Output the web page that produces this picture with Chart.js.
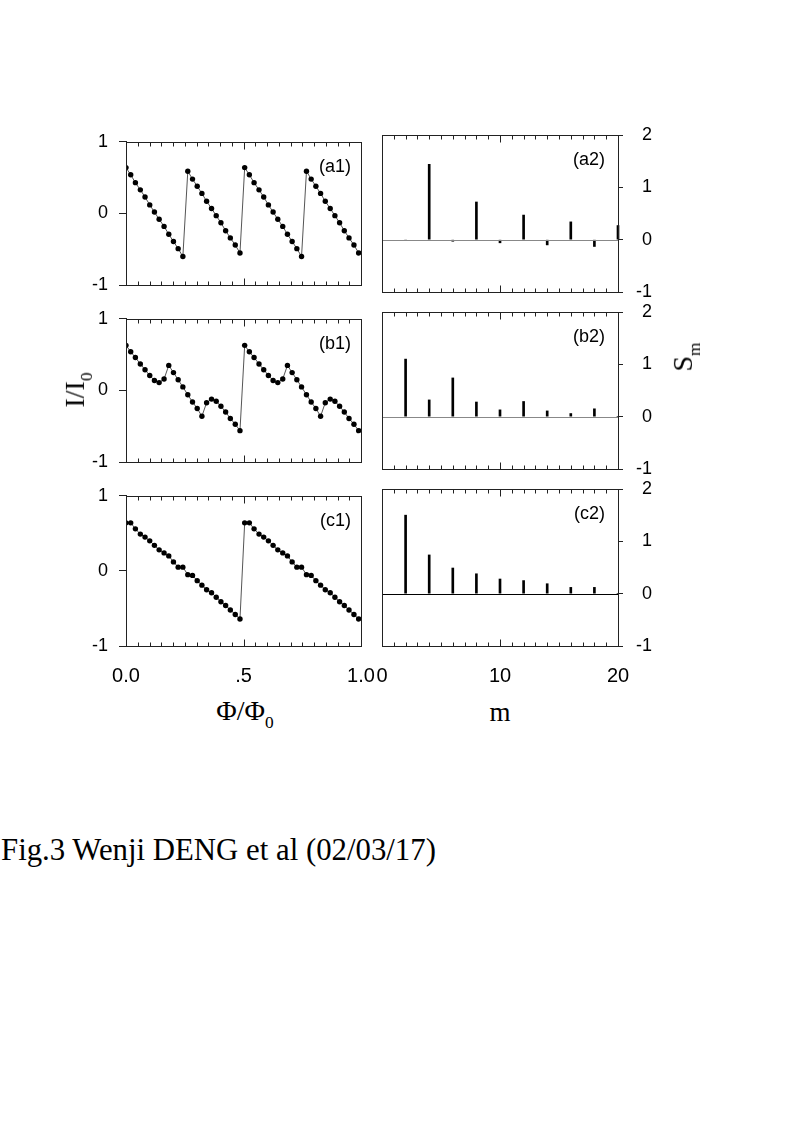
<!DOCTYPE html>
<html>
<head>
<meta charset="utf-8">
<script src="https://cdn.jsdelivr.net/npm/chart.js@4.4.1/dist/chart.umd.min.js"></script>
<style>
  body { margin: 0; background: #fff; width: 788px; height: 1134px; position: relative; overflow: hidden; }
  canvas { position: absolute; }
  .lbl { position: absolute; font-family: "Liberation Serif", "Times New Roman", serif; color: #000; white-space: nowrap; line-height: 1; }
  .lbl sub { font-size: 62%; vertical-align: -0.45em; }
</style>
</head>
<body>
<canvas id="a1" width="350" height="187" style="left:40px;top:120px"></canvas>
<canvas id="b1" width="350" height="187" style="left:40px;top:297px"></canvas>
<canvas id="c1" width="350" height="217" style="left:40px;top:474px"></canvas>
<canvas id="a2" width="340" height="187" style="left:360px;top:120px"></canvas>
<canvas id="b2" width="340" height="187" style="left:360px;top:297px"></canvas>
<canvas id="c2" width="340" height="217" style="left:360px;top:474px"></canvas>

<div class="lbl" style="left:78px;top:390px;font-size:28px;transform:translate(-50%,-50%) rotate(-90deg)">I/I<sub>0</sub></div>
<div class="lbl" style="left:686px;top:357px;font-size:28px;transform:translate(-50%,-50%) rotate(-90deg)">S<sub>m</sub></div>
<div class="lbl" style="left:245px;top:714px;font-size:28px;transform:translate(-50%,-50%)">&Phi;/&Phi;<sub>0</sub></div>
<div class="lbl" style="left:500px;top:712px;font-size:27px;transform:translate(-50%,-50%)">m</div>
<div class="lbl" style="left:1px;top:835px;font-size:30.8px">Fig.3 Wenji DENG et al (02/03/17)</div>

<script>
// flux values (Phi/Phi0) of the sampled points
const phi = [0.000, 0.020, 0.040, 0.061, 0.081, 0.101, 0.121, 0.141, 0.162, 0.182,
             0.202, 0.222, 0.242, 0.263, 0.283, 0.303, 0.323, 0.343, 0.364, 0.384,
             0.404, 0.424, 0.444, 0.465, 0.485, 0.505, 0.525, 0.545, 0.566, 0.586,
             0.606, 0.626, 0.646, 0.667, 0.687, 0.707, 0.727, 0.747, 0.768, 0.788,
             0.808, 0.828, 0.848, 0.869, 0.889, 0.909, 0.929, 0.949, 0.970, 0.990];

// I/I0 curves
const currA = [0.64, 0.54, 0.43, 0.33, 0.23, 0.12, 0.02, -0.08, -0.18, -0.29, -0.39, -0.49, -0.60,
               0.59, 0.48, 0.38, 0.28, 0.17, 0.07, -0.03, -0.13, -0.24, -0.34, -0.44, -0.55,
               0.64, 0.54, 0.43, 0.33, 0.23, 0.12, 0.02, -0.08, -0.18, -0.29, -0.39, -0.49, -0.60,
               0.59, 0.48, 0.38, 0.28, 0.17, 0.07, -0.03, -0.13, -0.24, -0.34, -0.44, -0.55];
const currB = [0.63, 0.54, 0.46, 0.37, 0.29, 0.21, 0.14, 0.11, 0.16, 0.35, 0.25, 0.15, 0.05,
               -0.06, -0.16, -0.25, -0.36, -0.17, -0.12, -0.15, -0.22, -0.30, -0.39, -0.47, -0.56,
               0.63, 0.54, 0.46, 0.37, 0.29, 0.21, 0.14, 0.11, 0.16, 0.35, 0.25, 0.15, 0.05,
               -0.06, -0.16, -0.25, -0.36, -0.17, -0.12, -0.15, -0.22, -0.30, -0.39, -0.47, -0.56];
const currC = [0.64, 0.64, 0.56, 0.49, 0.45, 0.40, 0.34, 0.28, 0.24, 0.20, 0.12, 0.05, 0.05,
               -0.05, -0.06, -0.13, -0.19, -0.25, -0.29, -0.35, -0.41, -0.46, -0.52, -0.58, -0.64,
               0.64, 0.64, 0.56, 0.49, 0.45, 0.40, 0.34, 0.28, 0.24, 0.20, 0.12, 0.05, 0.05,
               -0.05, -0.06, -0.13, -0.19, -0.25, -0.29, -0.35, -0.41, -0.46, -0.52, -0.58, -0.64];

// harmonics S_m
const harm = [2, 4, 6, 8, 10, 12, 14, 16, 18, 20];
const specA = [-0.01, 1.44, -0.03, 0.72, -0.06, 0.47, -0.10, 0.34, -0.13, 0.27];
const specB = [1.10, 0.32, 0.74, 0.28, 0.13, 0.29, 0.11, 0.06, 0.15, 0];
const specC = [1.50, 0.74, 0.49, 0.38, 0.28, 0.25, 0.19, 0.12, 0.12, 0];

// tick values and labels
const phiTicks = [0, 0.5, 1];
const phiTickLabels = ["0.0", ".5", "1.0"];
const mTicks = [0, 10, 20];
const mTickLabels = ["0", "10", "20"];
const currTicks = [-1, 0, 1];
const currTickLabels = ["-1", "0", "1"];
const specTicks = [-1, 0, 1, 2];
const specTickLabels = ["-1", "0", "1", "2"];

const sans = "'Liberation Sans', Arial, sans-serif";

// box, inward minor ticks, zero line and panel tag
const framePlugin = {
  id: "frame",
  afterDraw(chart, args, opts) {
    const { ctx, chartArea: a } = chart;
    const x = chart.scales.x;
    ctx.save();
    if (opts.zeroColor) {
      const y0 = Math.round(chart.scales.y.getPixelForValue(0)) + 0.5;
      ctx.strokeStyle = opts.zeroColor;
      ctx.lineWidth = 1;
      ctx.beginPath();
      ctx.moveTo(a.left, y0);
      ctx.lineTo(a.right, y0);
      ctx.stroke();
    }
    ctx.strokeStyle = "#222";
    ctx.lineWidth = 1;
    const l = Math.round(a.left) + 0.5, r = Math.round(a.right) + 0.5;
    const t = Math.round(a.top) + 0.5, b = Math.round(a.bottom) + 0.5;
    ctx.strokeRect(l, t, r - l, b - t);
    ctx.beginPath();
    for (let v = x.min; v <= x.max + 1e-9; v += opts.step) {
      const px = Math.round(x.getPixelForValue(v)) + 0.5;
      const len = Math.abs(v - opts.major) < 1e-9 ? 7 : 4;
      ctx.moveTo(px, t);
      ctx.lineTo(px, t + len);
      ctx.moveTo(px, b);
      ctx.lineTo(px, b - len);
    }
    ctx.stroke();
    ctx.fillStyle = "#000";
    ctx.font = "18px " + sans;
    ctx.textAlign = "right";
    ctx.textBaseline = "middle";
    ctx.fillText(opts.tag, a.right - opts.tagInset, a.top + 25);
    ctx.restore();
  },
};

function leftPanel(id, values, tag, showX) {
  new Chart(document.getElementById(id), {
    type: "line",
    data: {
      datasets: [
        {
          data: phi.map((p, i) => ({ x: p, y: values[i] })),
          borderColor: "#555",
          borderWidth: 1,
          pointRadius: 2.7,
          pointBackgroundColor: "#000",
          pointBorderWidth: 0,
          tension: 0,
        },
      ],
    },
    options: {
      responsive: false,
      animation: false,
      layout: { padding: { left: 0, right: 29, top: 15, bottom: showX ? 5 : 15 } },
      plugins: {
        legend: { display: false },
        tooltip: { enabled: false },
        frame: { tag: tag, step: 0.05, major: 0.5, tagInset: 10 },
      },
      scales: {
        x: {
          type: "linear",
          min: 0,
          max: 1,
          grid: { display: false },
          border: { display: false },
          afterBuildTicks: (s) => { s.ticks = phiTicks.map((v) => ({ value: v })); },
          afterFit: (s) => { s.height = showX ? 40 : 0; },
          ticks: {
            display: showX,
            autoSkip: false,
            maxRotation: 0,
            padding: 10,
            color: "#000",
            font: { size: 20, family: sans },
            callback: (v) => phiTickLabels[phiTicks.indexOf(v)],
          },
        },
        y: {
          min: -1,
          max: 1,
          grid: { drawOnChartArea: false, drawTicks: true, tickLength: 7, color: "#222" },
          border: { display: true, color: "#222" },
          afterBuildTicks: (s) => { s.ticks = currTicks.map((v) => ({ value: v })); },
          afterFit: (s) => { s.width = 86; },
          ticks: {
            padding: 11,
            color: "#000",
            font: { size: 18, family: sans },
            callback: (v) => currTickLabels[currTicks.indexOf(v)],
          },
        },
      },
    },
    plugins: [framePlugin],
  });
}

function rightPanel(id, values, tag, showX, zeroColor) {
  new Chart(document.getElementById(id), {
    type: "bar",
    data: {
      datasets: [
        {
          data: harm.map((m, i) => ({ x: m, y: values[i] })),
          backgroundColor: "#000",
          barThickness: 2,
          clip: false,
        },
      ],
    },
    options: {
      responsive: false,
      animation: false,
      layout: { padding: { left: 22, right: 48, top: 15, bottom: showX ? 5 : 15 } },
      plugins: {
        legend: { display: false },
        tooltip: { enabled: false },
        frame: { tag: tag, step: 1, major: 10, tagInset: 13, zeroColor: zeroColor },
      },
      scales: {
        x: {
          type: "linear",
          offset: false,
          min: 0,
          max: 20,
          grid: { display: false },
          border: { display: false },
          afterBuildTicks: (s) => { s.ticks = mTicks.map((v) => ({ value: v })); },
          afterFit: (s) => { s.height = showX ? 40 : 0; },
          ticks: {
            display: showX,
            autoSkip: false,
            maxRotation: 0,
            padding: 10,
            color: "#000",
            font: { size: 20, family: sans },
            callback: (v) => mTickLabels[mTicks.indexOf(v)],
          },
        },
        y: {
          position: "right",
          min: -1,
          max: 2,
          grid: { drawOnChartArea: false, drawTicks: true, tickLength: 5, color: "#222" },
          border: { display: true, color: "#222" },
          afterBuildTicks: (s) => { s.ticks = specTicks.map((v) => ({ value: v })); },
          afterFit: (s) => { s.width = 34; },
          ticks: {
            crossAlign: "far",
            color: "#000",
            font: { size: 18, family: sans },
            callback: (v) => specTickLabels[specTicks.indexOf(v)],
          },
        },
      },
    },
    plugins: [framePlugin],
  });
}

leftPanel("a1", currA, "(a1)", false);
leftPanel("b1", currB, "(b1)", false);
leftPanel("c1", currC, "(c1)", true);
rightPanel("a2", specA, "(a2)", false, "#888");
rightPanel("b2", specB, "(b2)", false, "#888");
rightPanel("c2", specC, "(c2)", true, "#000");
</script>
</body>
</html>
